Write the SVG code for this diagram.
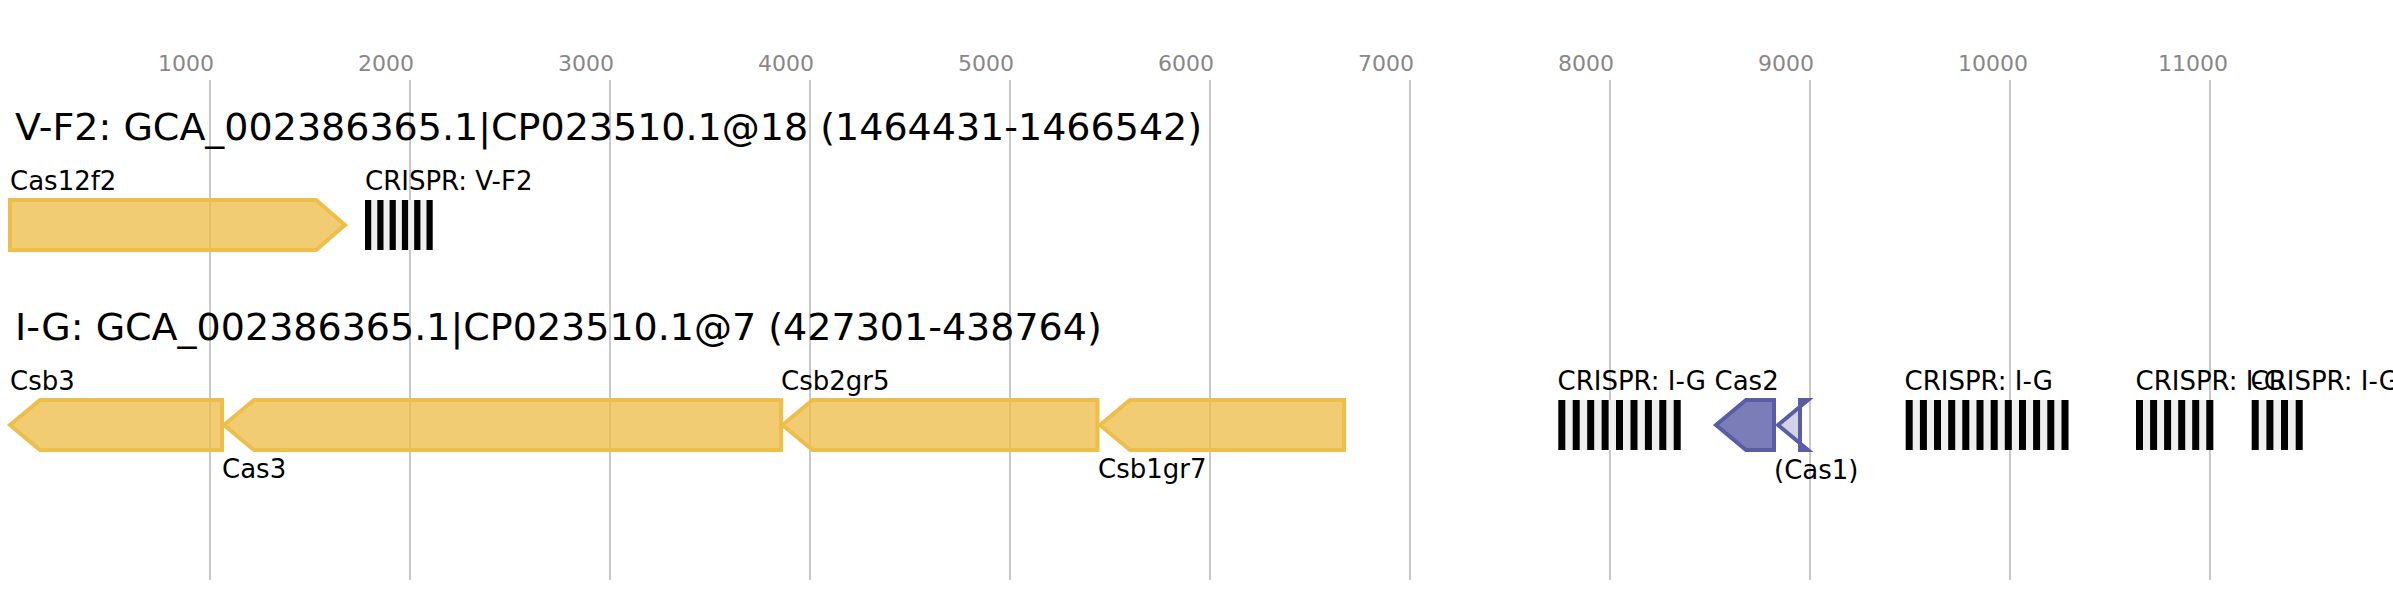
<svg xmlns="http://www.w3.org/2000/svg" width="2393" height="600" viewBox="0 0 2393 600">
<style>
.tick{stroke:#bbbbbb;stroke-width:1.6;fill:none}
.tl{font-family:"DejaVu Sans",sans-serif;font-size:22px;fill:#888888}
.title{font-family:"DejaVu Sans",sans-serif;font-size:38px;fill:#000000}
.lab{font-family:"DejaVu Sans",sans-serif;font-size:26px;fill:#000000}
.gy{fill:#eebe4a;fill-opacity:0.78;stroke:#eebe4a;stroke-width:4}
.gb{fill:#5a5da6;fill-opacity:0.8;stroke:#5a5da6;stroke-width:4}
.gbp{fill:#5a5da6;fill-opacity:0.28;stroke:#5a5da6;stroke-width:4}
.sp{fill:#efefef}
.rp{fill:#000000}
</style>
<rect x="0" y="0" width="2393" height="600" fill="#ffffff"/>
<g id="axis">
<line class="tick" x1="210" y1="80" x2="210" y2="580"/>
<line class="tick" x1="410" y1="80" x2="410" y2="580"/>
<line class="tick" x1="610" y1="80" x2="610" y2="580"/>
<line class="tick" x1="810" y1="80" x2="810" y2="580"/>
<line class="tick" x1="1010" y1="80" x2="1010" y2="580"/>
<line class="tick" x1="1210" y1="80" x2="1210" y2="580"/>
<line class="tick" x1="1410" y1="80" x2="1410" y2="580"/>
<line class="tick" x1="1610" y1="80" x2="1610" y2="580"/>
<line class="tick" x1="1810" y1="80" x2="1810" y2="580"/>
<line class="tick" x1="2010" y1="80" x2="2010" y2="580"/>
<line class="tick" x1="2210" y1="80" x2="2210" y2="580"/>
<text class="tl" x="158" y="71">1000</text>
<text class="tl" x="358" y="71">2000</text>
<text class="tl" x="558" y="71">3000</text>
<text class="tl" x="758" y="71">4000</text>
<text class="tl" x="958" y="71">5000</text>
<text class="tl" x="1158" y="71">6000</text>
<text class="tl" x="1358" y="71">7000</text>
<text class="tl" x="1558" y="71">8000</text>
<text class="tl" x="1758" y="71">9000</text>
<text class="tl" x="1958" y="71">10000</text>
<text class="tl" x="2158" y="71">11000</text>
</g>
<g id="titles">
<text class="title" x="15" y="140">V-F2: GCA_002386365.1|CP023510.1@18 (1464431-1466542)</text>
<text class="title" x="15" y="340">I-G: GCA_002386365.1|CP023510.1@7 (427301-438764)</text>
</g>
<g id="connectors"></g>
<g id="cas12f2">
<polygon class="gy" points="10,200 316,200 345,225 316,250 10,250"/>
<text class="lab" x="10" y="190">Cas12f2</text>
</g>
<g id="crispr-vf2">
<rect class="sp" x="365" y="200" width="67.7" height="50"/>
<rect class="rp" x="365" y="200" width="6.2" height="50"/>
<rect class="rp" x="377.3" y="200" width="6.2" height="50"/>
<rect class="rp" x="389.6" y="200" width="6.2" height="50"/>
<rect class="rp" x="401.9" y="200" width="6.2" height="50"/>
<rect class="rp" x="414.2" y="200" width="6.2" height="50"/>
<rect class="rp" x="426.5" y="200" width="6.2" height="50"/>
<text class="lab" x="365" y="190">CRISPR: V-F2</text>
</g>
<g id="csb3">
<polygon class="gy" points="10,425 40,400 222,400 222,450 40,450"/>
<text class="lab" x="10" y="390">Csb3</text>
</g>
<g id="cas3">
<polygon class="gy" points="224,425 254,400 781,400 781,450 254,450"/>
<text class="lab" x="222" y="478">Cas3</text>
</g>
<g id="csb2gr5">
<polygon class="gy" points="782.5,425 812.5,400 1097.5,400 1097.5,450 812.5,450"/>
<text class="lab" x="781" y="390">Csb2gr5</text>
</g>
<g id="csb1gr7">
<polygon class="gy" points="1100,425 1130,400 1344,400 1344,450 1130,450"/>
<text class="lab" x="1098" y="478">Csb1gr7</text>
</g>
<g id="crispr-ig-1">
<rect class="sp" x="1558.3" y="400" width="122.4" height="50"/>
<rect class="rp" x="1558.3" y="400" width="7" height="50"/>
<rect class="rp" x="1572.7" y="400" width="7" height="50"/>
<rect class="rp" x="1587.2" y="400" width="7" height="50"/>
<rect class="rp" x="1601.6" y="400" width="7" height="50"/>
<rect class="rp" x="1616" y="400" width="7" height="50"/>
<rect class="rp" x="1630.5" y="400" width="7" height="50"/>
<rect class="rp" x="1644.9" y="400" width="7" height="50"/>
<rect class="rp" x="1659.3" y="400" width="7" height="50"/>
<rect class="rp" x="1673.7" y="400" width="7" height="50"/>
<text class="lab" x="1557.5" y="390">CRISPR: I-G</text>
</g>
<g id="cas2">
<polygon class="gb" points="1716,425 1746,400 1774,400 1774,450 1746,450"/>
<text class="lab" x="1714.5" y="390">Cas2</text>
</g>
<g id="cas1">
<polygon class="gbp" points="1778,425 1808,400 1800,400 1800,450 1808,450"/>
<text class="lab" x="1774" y="479">(Cas1)</text>
</g>
<g id="crispr-ig-2">
<rect class="sp" x="1905.7" y="400" width="162.8" height="50"/>
<rect class="rp" x="1905.7" y="400" width="7" height="50"/>
<rect class="rp" x="1919.9" y="400" width="7" height="50"/>
<rect class="rp" x="1934" y="400" width="7" height="50"/>
<rect class="rp" x="1948.2" y="400" width="7" height="50"/>
<rect class="rp" x="1962.3" y="400" width="7" height="50"/>
<rect class="rp" x="1976.5" y="400" width="7" height="50"/>
<rect class="rp" x="1990.7" y="400" width="7" height="50"/>
<rect class="rp" x="2004.8" y="400" width="7" height="50"/>
<rect class="rp" x="2019" y="400" width="7" height="50"/>
<rect class="rp" x="2033.1" y="400" width="7" height="50"/>
<rect class="rp" x="2047.3" y="400" width="7" height="50"/>
<rect class="rp" x="2061.5" y="400" width="7" height="50"/>
<text class="lab" x="1904.5" y="390">CRISPR: I-G</text>
</g>
<g id="crispr-ig-3">
<rect class="sp" x="2136" y="400" width="77.3" height="50"/>
<rect class="rp" x="2136" y="400" width="7" height="50"/>
<rect class="rp" x="2150.1" y="400" width="7" height="50"/>
<rect class="rp" x="2164.1" y="400" width="7" height="50"/>
<rect class="rp" x="2178.2" y="400" width="7" height="50"/>
<rect class="rp" x="2192.2" y="400" width="7" height="50"/>
<rect class="rp" x="2206.3" y="400" width="7" height="50"/>
<text class="lab" x="2135.5" y="390">CRISPR: I-G</text>
</g>
<g id="crispr-ig-4">
<rect class="sp" x="2251.7" y="400" width="51" height="50"/>
<rect class="rp" x="2251.7" y="400" width="7" height="50"/>
<rect class="rp" x="2266.4" y="400" width="7" height="50"/>
<rect class="rp" x="2281" y="400" width="7" height="50"/>
<rect class="rp" x="2295.7" y="400" width="7" height="50"/>
<text class="lab" x="2250.5" y="390">CRISPR: I-G</text>
</g>
</svg>
